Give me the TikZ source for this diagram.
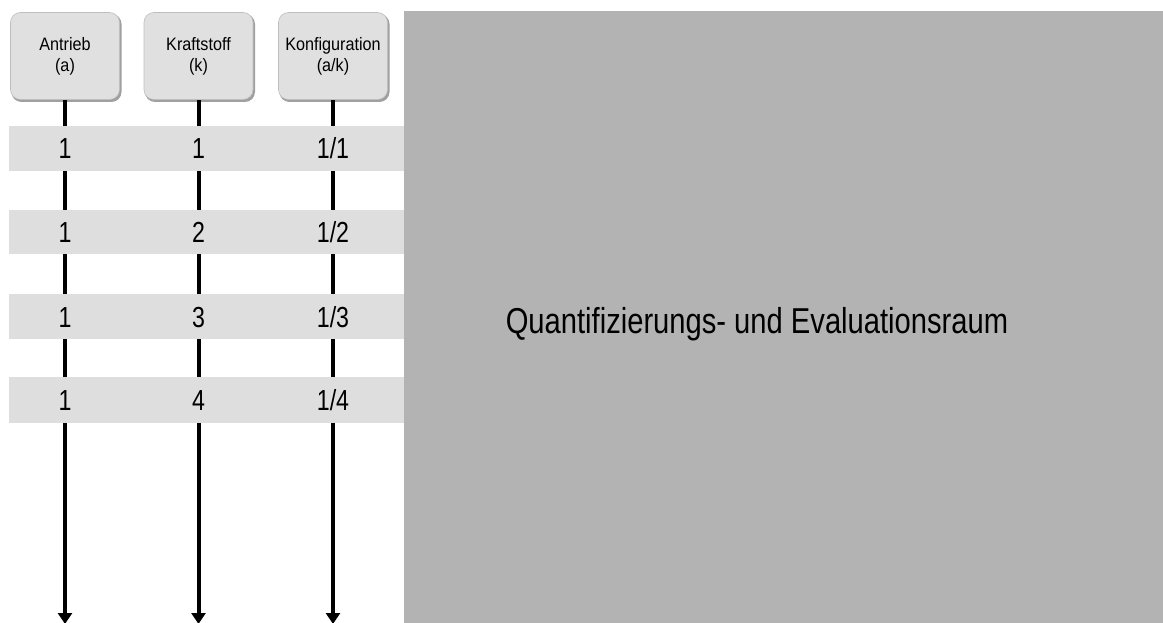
\documentclass[tikz,border=0pt]{standalone}
\usepackage{fontspec}
\setmainfont{Liberation Sans}
\usetikzlibrary{arrows.meta}
\definecolor{bandgray}{HTML}{DEDEDE}
\definecolor{boxgray}{HTML}{E0E0E0}
\definecolor{spacegray}{HTML}{B3B3B3}
\definecolor{shadowgray}{HTML}{A0A0A0}
\begin{document}
\begin{tikzpicture}[x=1pt,y=-1pt,
  headbox/.style={rounded corners=10pt, fill=boxgray, draw=boxgray!85!black, line width=0.6pt,
    minimum width=109pt, minimum height=87pt, inner sep=0pt, align=center,
    font=\fontsize{18}{21}\selectfont},
  band/.style={fill=bandgray, draw=none},
  num/.style={font=\fontsize{29}{29}\selectfont, inner sep=0pt, anchor=base, xscale=0.8},
  flow/.style={line width=4pt, -{Triangle[length=11pt,width=14pt]}}]
\useasboundingbox (0,0) rectangle (1163,623);
\fill[white] (0,0) rectangle (1163,623);
% evaluation space
\fill[spacegray] (404,11) rectangle (1163,623);
\node[font=\fontsize{36}{36}\selectfont, inner sep=0pt, anchor=base, xscale=0.81] (space) at (757,333) {Quantifizierungs- und Evaluationsraum};
% header boxes with shadow
\foreach \x in {65,198.5,333}{
  \fill[shadowgray, rounded corners=10pt] (\x-53.5,14) rectangle (\x+56.5,102);
}
\node[headbox] (a) at (65,56) {\scalebox{0.9}[1]{Antrieb}\\\scalebox{0.9}[1]{(a)}};
\node[headbox] (k) at (198.5,56) {\scalebox{0.9}[1]{Kraftstoff}\\\scalebox{0.9}[1]{(k)}};
\node[headbox] (c) at (333,56) {\scalebox{0.9}[1]{Konfiguration}\\\scalebox{0.9}[1]{(a/k)}};
% end points
\coordinate (ae) at (65,624);
\coordinate (ke) at (198.5,624);
\coordinate (ce) at (333,624);
\draw[flow] (a.south) -- (ae);
\draw[flow] (k.south) -- (ke);
\draw[flow] (c.south) -- (ce);
% bands
\foreach \t/\b in {126/171, 210/254, 294/339, 377/423}{
  \fill[band] (9,\t) rectangle (404,\b);
}
\foreach \y/\k in {159/1, 242.5/2, 327/3, 410.5/4}{
  \node[num] (a\k) at (65,\y) {1};
  \node[num] (k\k) at (198.5,\y) {\k};
  \node[num] (c\k) at (333,\y) {1/\k};
}
\end{tikzpicture}
\end{document}
